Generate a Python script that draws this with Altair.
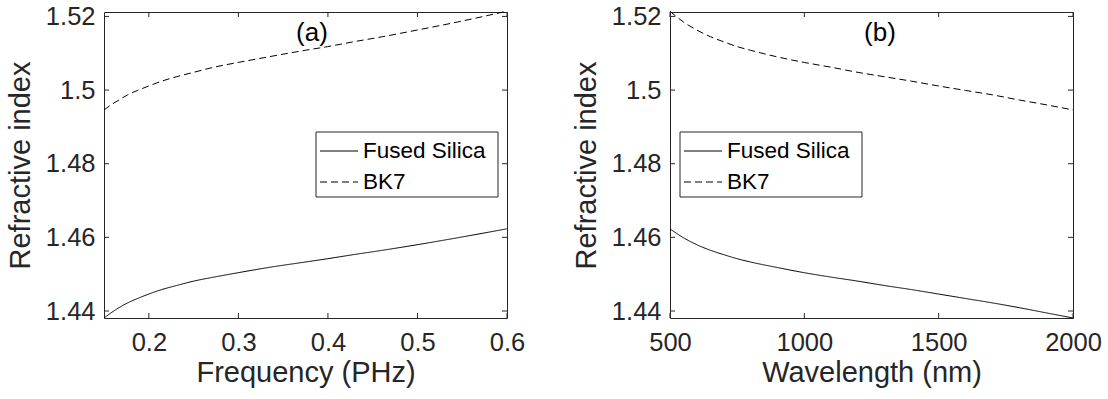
import altair as alt
import pandas as pd

# ---- data ----
wavelength_nm = [500, 550, 600, 650, 700, 750, 800, 900, 1000, 1100, 1200,
                 1300, 1400, 1500, 1600, 1700, 1800, 1900, 2000]
frequency_phz = [0.5996, 0.5451, 0.4997, 0.4612, 0.4283, 0.3997, 0.3747, 0.3331,
                 0.2998, 0.2725, 0.2498, 0.2306, 0.2141, 0.1999, 0.1874, 0.1763,
                 0.1666, 0.1578, 0.1499]
n_fused_silica = [1.4623, 1.4599, 1.4580, 1.4565, 1.4553, 1.4542, 1.4533, 1.4518,
                  1.4504, 1.4492, 1.4481, 1.4469, 1.4458, 1.4446, 1.4434, 1.4422,
                  1.4409, 1.4395, 1.4381]
n_bk7 = [1.5214, 1.5185, 1.5163, 1.5145, 1.5131, 1.5118, 1.5108, 1.5090,
         1.5075, 1.5062, 1.5048, 1.5036, 1.5024, 1.5011, 1.4999, 1.4987,
         1.4973, 1.4960, 1.4946]
series_names = ["Fused Silica", "BK7"]
panel_tags = ["(a)", "(b)"]
y_ticks = [1.44, 1.46, 1.48, 1.50, 1.52]
freq_ticks = [0.2, 0.3, 0.4, 0.5, 0.6]
wl_ticks = [500, 1000, 1500, 2000]

rows = []
for i in range(len(wavelength_nm)):
    rows.append({"wl": wavelength_nm[i], "f": frequency_phz[i], "n": n_fused_silica[i], "series": series_names[0]})
    rows.append({"wl": wavelength_nm[i], "f": frequency_phz[i], "n": n_bk7[i], "series": series_names[1]})
df = pd.DataFrame(rows)

W, H = 403, 306
FONT = "Liberation Sans"
AX = "#262626"
DASH = [7, 4]


def panel(xfield, xdomain, xticks, xformat, xtitle, tag, tag_x, box_x0):
    X = alt.X(f"{xfield}:Q",
              scale=alt.Scale(domain=xdomain, nice=False, zero=False),
              axis=alt.Axis(values=xticks, format=xformat, title=xtitle))
    Y = alt.Y("n:Q",
              scale=alt.Scale(domain=[1.4381, 1.5212], nice=False, zero=False),
              axis=alt.Axis(values=y_ticks, format=".2~f", title="Refractive index"))

    lines = alt.Chart(df).mark_line(color="black", strokeWidth=1, interpolate="monotone").encode(
        x=X, y=Y,
        strokeDash=alt.StrokeDash("series:N", scale=alt.Scale(domain=series_names, range=[[1, 0], DASH]), legend=None),
    )

    xt = pd.DataFrame({xfield: xticks})
    yt = pd.DataFrame({"n": y_ticks})
    tick_layers = [
        alt.Chart(xt).mark_rule(color=AX, strokeWidth=1).encode(x=X, y=alt.value(H), y2=alt.value(H - 5)),
        alt.Chart(xt).mark_rule(color=AX, strokeWidth=1).encode(x=X, y=alt.value(0), y2=alt.value(5)),
        alt.Chart(yt).mark_rule(color=AX, strokeWidth=1).encode(y=Y, x=alt.value(0), x2=alt.value(5)),
        alt.Chart(yt).mark_rule(color=AX, strokeWidth=1).encode(y=Y, x=alt.value(W), x2=alt.value(W - 5)),
    ]

    tag_layer = alt.Chart(pd.DataFrame({"t": [tag]})).mark_text(
        font=FONT, fontSize=26, color="black", baseline="middle", align="center"
    ).encode(text="t:N", x=alt.value(tag_x), y=alt.value(21))

    one = pd.DataFrame({"a": [0]})
    bx0, bx1 = box_x0, box_x0 + 182
    box = alt.Chart(one).mark_rect(fill="white", stroke=AX, strokeWidth=1).encode(
        x=alt.value(bx0), x2=alt.value(bx1), y=alt.value(120), y2=alt.value(185))
    leg_df = pd.DataFrame({"name": series_names, "row": [0, 1]})
    leg_layers = [box]
    for i, name in enumerate(series_names):
        yy = 139 + 31 * i
        rule = alt.Chart(one).mark_rule(color="black", strokeWidth=1,
                                        strokeDash=([1, 0] if i == 0 else DASH)).encode(
            x=alt.value(bx0 + 4), x2=alt.value(bx0 + 42), y=alt.value(yy))
        txt = alt.Chart(leg_df.iloc[[i]]).mark_text(
            font=FONT, fontSize=22.5, color="black", align="left", baseline="middle"
        ).encode(text="name:N", x=alt.value(bx0 + 47), y=alt.value(yy))
        leg_layers += [rule, txt]

    return alt.layer(lines, *tick_layers, tag_layer, *leg_layers).properties(width=W, height=H)


left = panel("f", [0.1499, 0.6], freq_ticks, ".1~f", "Frequency (PHz)", panel_tags[0], 208, 212)
right = panel("wl", [500, 2000], wl_ticks, "d", "Wavelength (nm)", panel_tags[1], 210, 10)

chart = alt.hconcat(left, right, spacing=45).properties(
    padding={"left": 5, "top": 3, "right": 5, "bottom": 5},
    background="white",
).configure_view(stroke=AX, strokeWidth=1).configure_axis(
    labelFont=FONT, titleFont=FONT, labelFontSize=25.5, titleFontSize=29,
    titleFontWeight="normal", labelColor=AX, titleColor=AX,
    ticks=False, domain=False, grid=False, labelFlush=False,
).configure_axisY(labelPadding=9, titlePadding=10).configure_axisX(labelPadding=12, titlePadding=3)

chart.save("out.html", embed_options={"renderer": "svg", "actions": False})
